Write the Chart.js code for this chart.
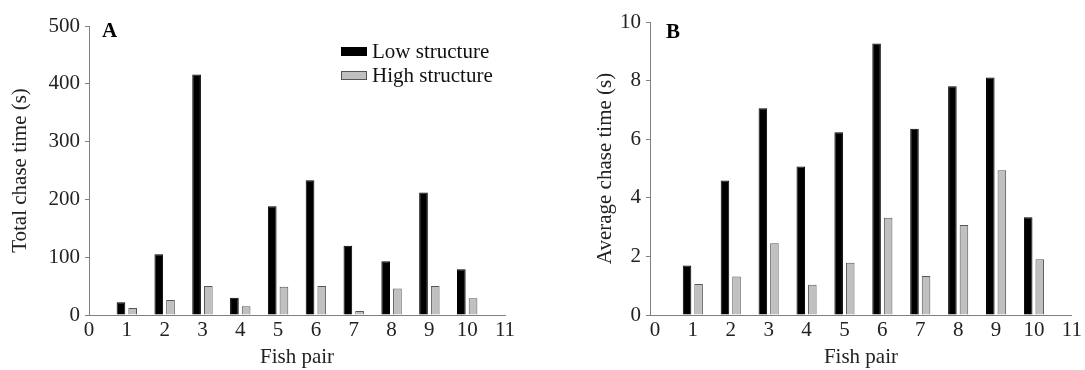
<!DOCTYPE html>
<html>
<head>
<meta charset="utf-8">
<script src="https://cdn.jsdelivr.net/npm/chart.js@4.4.1/dist/chart.umd.min.js"></script>
<style>
  body { margin: 0; background: #fff; width: 1085px; height: 370px; overflow: hidden; position: relative; font-family: 'Liberation Serif', 'Times New Roman', serif; }
  canvas { position: absolute; top: 0; }
  .tag { position: absolute; font-weight: bold; font-size: 21px; color: #000; line-height: 21px; }
  .legend { position: absolute; left: 341px; top: 39px; font-size: 21px; color: #111; }
  .legend div { height: 24.5px; display: flex; align-items: center; }
  .legend span.box { display: inline-block; width: 24px; height: 7px; margin-right: 5px; border: 1px solid; }
</style>
</head>
<body>
<canvas id="chartA" width="540" height="370" style="left:0"></canvas>
<canvas id="chartB" width="540" height="370" style="left:545px"></canvas>
<div class="tag" style="left:102px; top:20px">A</div>
<div class="tag" style="left:666px; top:21px">B</div>
<div class="legend">
  <div><span class="box" style="background:#000;border-color:#000"></span>Low structure</div>
  <div><span class="box" style="background:#c0c0c0;border-color:#555"></span>High structure</div>
</div>
<script>
// 데이터
const pairs = [1, 2, 3, 4, 5, 6, 7, 8, 9, 10];
const xTicks = [0, 1, 2, 3, 4, 5, 6, 7, 8, 9, 10, 11];
const seriesNames = ['Low structure', 'High structure'];

// A: total chase time (s)
const totalLow  = [22, 105, 416, 30, 188, 233, 120, 93, 212, 79];
const totalHigh = [12, 26, 50, 15, 49, 50, 7, 46, 50, 29];

// B: average chase time (s)
const avgLow  = [1.69, 4.59, 7.06, 5.07, 6.24, 9.27, 6.36, 7.81, 8.11, 3.34];
const avgHigh = [1.06, 1.31, 2.45, 1.03, 1.78, 3.32, 1.33, 3.07, 4.94, 1.90];

const FONT = "'Liberation Serif', 'Times New Roman', serif";
const AXIS = '#808080';

function makeChart(id, low, high, cfg) {
    const ctx = document.getElementById(id).getContext('2d');
    return new Chart(ctx, {
        type: 'bar',
        data: {
            datasets: [{
                label: seriesNames[0],
                data: pairs.map((p, i) => ({ x: p, y: low[i] })),
                backgroundColor: '#000',
                borderColor: '#000',
                borderWidth: 1
            }, {
                label: seriesNames[1],
                data: pairs.map((p, i) => ({ x: p, y: high[i] })),
                backgroundColor: '#c0c0c0',
                borderColor: '#555',
                borderWidth: 1
            }]
        },
        options: {
            responsive: false,
            animation: false,
            categoryPercentage: cfg.cp,
            barPercentage: cfg.bp,
            layout: { padding: { left: 0, top: cfg.top, right: cfg.right, bottom: 0 } },
            plugins: { legend: { display: false }, tooltip: { enabled: false } },
            scales: {
                x: {
                    type: 'linear',
                    offset: false,
                    min: cfg.xmin,
                    max: 11,
                    afterBuildTicks: s => { s.ticks = xTicks.map(v => ({ value: v })); },
                    afterFit: s => { s.height = 55; },
                    grid: { display: true, drawOnChartArea: false, drawTicks: false },
                    border: { display: true, color: AXIS, width: 1 },
                    ticks: { color: '#222', font: { family: FONT, size: 21 }, padding: 3, maxRotation: 0, autoSkip: false },
                    title: { display: true, text: 'Fish pair', color: '#222', font: { family: FONT, size: 21 }, padding: { top: 0, bottom: 0 } }
                },
                y: {
                    min: 0,
                    max: cfg.ymax,
                    ticks: { stepSize: cfg.step, color: '#222', font: { family: FONT, size: 21 }, padding: 5 },
                    afterFit: s => { s.width = cfg.axisW; },
                    grid: { display: true, drawOnChartArea: false, drawTicks: true, tickLength: 4, color: AXIS },
                    border: { display: true, color: AXIS, width: 1 },
                    title: { display: true, text: cfg.ytitle, color: '#222', font: { family: FONT, size: 21 }, padding: { top: cfg.tpad, bottom: 0 } }
                }
            }
        }
    });
}

makeChart('chartA', totalLow, totalHigh, {
    ymax: 500, step: 100, axisW: 89, top: 26, right: 35, xmin: 0,
    cp: 0.62, bp: 0.74, tpad: 8, ytitle: 'Total chase time (s)'
});
makeChart('chartB', avgLow, avgHigh, {
    ymax: 10, step: 2, axisW: 105, top: 22, right: 12, xmin: -0.13,
    cp: 0.61, bp: 0.74, tpad: 48, ytitle: 'Average chase time (s)'
});
</script>
</body>
</html>
